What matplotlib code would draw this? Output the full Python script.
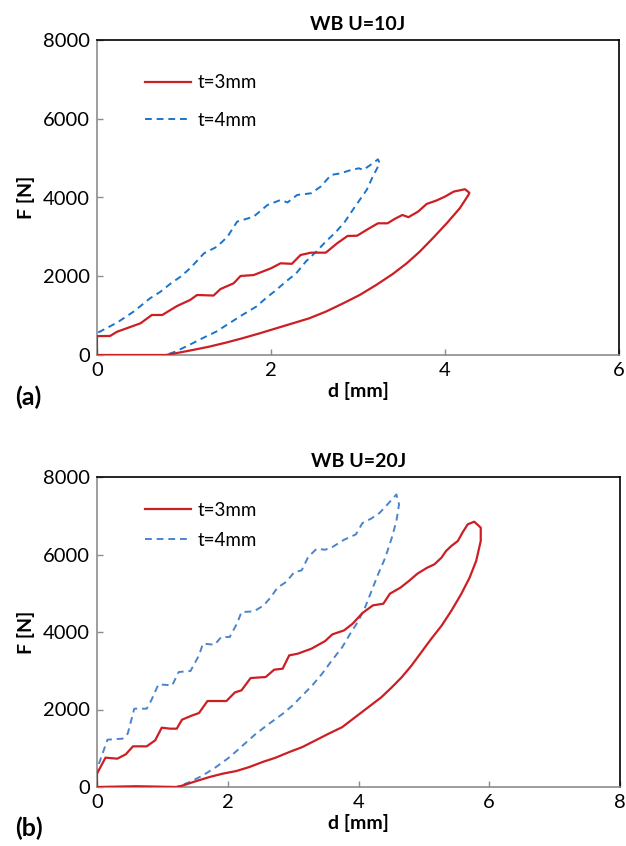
import matplotlib
matplotlib.use("Agg")
import matplotlib.pyplot as plt

plt.rcParams['font.family'] = ['Lato', 'DejaVu Sans']

# ---------------- data: panel (a) WB U=10J ----------------
a_t3_d = [0.0, 0.0, 0.15, 0.23, 0.50, 0.63, 0.75, 0.92, 1.07, 1.15, 1.34, 1.42, 1.57, 1.65, 1.80,
          2.00, 2.11, 2.24, 2.34, 2.46, 2.63, 2.76, 2.88, 2.99, 3.11, 3.23, 3.34, 3.42, 3.51,
          3.58, 3.69, 3.79, 3.90, 4.00, 4.10, 4.23, 4.28, 4.27,
          4.17, 4.02, 3.87, 3.71, 3.56, 3.40, 3.21, 3.02, 2.83, 2.63, 2.44, 2.25, 2.06, 1.87,
          1.67, 1.48, 1.29, 1.10, 0.90, 0.79, 0.40, 0.0]
a_t3_F = [0, 480, 483, 590, 805, 1016, 1016, 1244, 1397, 1524, 1510, 1676, 1820, 2007, 2030,
          2202, 2329, 2316, 2540, 2599, 2599, 2837, 3023, 3030, 3192, 3345, 3345, 3454, 3556,
          3500, 3641, 3837, 3922, 4023, 4150, 4210, 4120, 4066,
          3727, 3346, 2990, 2626, 2329, 2058, 1779, 1525, 1313, 1101, 932, 805, 678, 551,
          424, 313, 212, 127, 42, 0, 0, 0]

a_t4_d = [0.0, 0.0, 0.03, 0.23, 0.42, 0.61, 0.73, 0.84, 0.96, 1.07, 1.23, 1.38, 1.50, 1.61, 1.80,
          1.96, 2.11, 2.19, 2.30, 2.46, 2.57, 2.69, 2.80, 2.92, 3.01, 3.06, 3.17, 3.23, 3.25,
          3.17, 3.10, 3.02, 2.94, 2.85, 2.75, 2.63, 2.52, 2.40, 2.29, 2.17, 2.06, 1.94, 1.83,
          1.67, 1.52, 1.37, 1.21, 1.06, 0.90, 0.79, 0.40, 0.0]
a_t4_F = [0, 560, 590, 821, 1100, 1440, 1608, 1803, 1989, 2202, 2583, 2751, 3005, 3386, 3513,
          3810, 3937, 3874, 4064, 4107, 4275, 4572, 4615, 4699, 4742, 4699, 4869, 4970, 4870,
          4531, 4193, 3939, 3685, 3388, 3134, 2880, 2626, 2372, 2075, 1863, 1652, 1440, 1228,
          1016, 805, 593, 424, 254, 85, 0, 0, 0]

# ---------------- data: panel (b) WB U=20J ----------------
b_t3_d = [0.0, 0.0, 0.13, 0.31, 0.44, 0.55, 0.76, 0.89, 0.99, 1.12, 1.22, 1.30, 1.46, 1.56, 1.69,
          1.98, 2.11, 2.21, 2.35, 2.58, 2.71, 2.84, 2.94, 3.07, 3.28, 3.49, 3.60, 3.78, 3.91,
          4.06, 4.22, 4.38, 4.48, 4.64, 4.77, 4.90, 5.05, 5.16, 5.27, 5.34, 5.42, 5.52, 5.59,
          5.67, 5.77, 5.87, 5.87,
          5.80, 5.70, 5.57, 5.42, 5.27, 5.11, 4.96, 4.81, 4.66, 4.51, 4.35, 4.15, 3.95, 3.75,
          3.54, 3.34, 3.14, 2.94, 2.73, 2.53, 2.33, 2.13, 1.92, 1.72, 1.52, 1.32, 1.22, 0.60, 0.0]
b_t3_F = [0, 344, 757, 731, 843, 1049, 1049, 1204, 1531, 1505, 1505, 1737, 1849, 1909, 2219,
          2219, 2442, 2494, 2812, 2838, 3027, 3053, 3397, 3440, 3569, 3767, 3939, 4042, 4214,
          4489, 4687, 4730, 4988, 5143, 5315, 5504, 5659, 5745, 5920, 6092, 6220, 6349, 6564,
          6778, 6847, 6692, 6349,
          5834, 5405, 4976, 4547, 4161, 3818, 3475, 3132, 2831, 2574, 2317, 2059, 1802, 1544,
          1373, 1201, 1030, 901, 755, 644, 515, 412, 343, 257, 154, 43, 0, 20, 0]

b_t4_d = [0.0, 0.0, 0.03, 0.16, 0.39, 0.47, 0.57, 0.76, 0.83, 0.94, 1.15, 1.25, 1.43, 1.56, 1.62,
          1.80, 1.90, 2.03, 2.14, 2.21, 2.40, 2.55, 2.66, 2.76, 2.89, 3.02, 3.13, 3.23, 3.36,
          3.49, 3.60, 3.78, 3.96, 4.06, 4.19, 4.32, 4.43, 4.58, 4.62,
          4.58, 4.51, 4.41, 4.30, 4.20, 4.10, 4.00, 3.87, 3.75, 3.59, 3.44, 3.29, 3.14, 2.99,
          2.84, 2.63, 2.43, 2.23, 2.03, 1.82, 1.62, 1.42, 1.22, 0.60, 0.0]
b_t4_F = [0, 430, 602, 1221, 1247, 1376, 2021, 2021, 2236, 2649, 2623, 2967, 2993, 3397, 3698,
          3672, 3870, 3870, 4214, 4515, 4532, 4687, 4902, 5143, 5289, 5547, 5590, 5934, 6149,
          6123, 6192, 6381, 6519, 6811, 6923, 7069, 7267, 7550, 7293,
          6864, 6435, 5920, 5491, 5062, 4633, 4290, 3947, 3604, 3260, 2917, 2617, 2360, 2102,
          1888, 1630, 1373, 1073, 772, 515, 300, 129, 0, 0, 0]

titles = ['WB U=10J', 'WB U=20J']
panel_labels = ['(a)', '(b)']
series_labels = ['t=3mm', 't=4mm']
x_ticks = [[0, 2, 4, 6], [0, 2, 4, 6, 8]]
y_ticks = [0, 2000, 4000, 6000, 8000]

RED = '#cc1f24'
BLUE_A = '#1a74cc'
BLUE_B = '#4a84cc'
GREY = '#8c8c8c'

fig = plt.figure(figsize=(6.26, 8.46), dpi=100)
W, H = 626, 846
ax_a = fig.add_axes([97 / W, 1 - 355 / H, (619 - 97) / W, (355 - 40) / H])
ax_b = fig.add_axes([97 / W, 1 - 787 / H, (620 - 97) / W, (787 - 477) / H])

panels = [
    (ax_a, a_t3_d, a_t3_F, a_t4_d, a_t4_F, BLUE_A),
    (ax_b, b_t3_d, b_t3_F, b_t4_d, b_t4_F, BLUE_B),
]

for i, (ax, d3, f3, d4, f4, bcol) in enumerate(panels):
    ax.plot(d3, f3, color=RED, lw=1.6, label=series_labels[0], zorder=3)
    ax.plot(d4, f4, color=bcol, lw=1.4, ls=(0, (3.5, 2.5)), label=series_labels[1], zorder=2)
    ax.set_xlim(x_ticks[i][0], x_ticks[i][-1])
    ax.set_ylim(0, 8000)
    ax.set_xticks(x_ticks[i])
    ax.set_yticks(y_ticks)
    ax.tick_params(direction='in', length=4, width=1, color=GREY, labelsize=14.5, pad=5,
                   labelcolor='black')
    for side in ['left', 'bottom']:
        ax.spines[side].set_color(GREY)
        ax.spines[side].set_linewidth(1.2)
    for side in ['top', 'right']:
        ax.spines[side].set_color('black')
        ax.spines[side].set_linewidth(1.2)
    ax.set_title(titles[i], fontsize=14, fontweight='bold', pad=7)
    ax.set_xlabel('d [mm]', fontsize=14, fontweight='bold', labelpad=2)
    ax.set_ylabel('F [N]', fontsize=14, fontweight='bold', labelpad=6)
    ax.legend(loc='upper left', bbox_to_anchor=(0.06, 0.945) if i == 0 else (0.06, 0.975),
              frameon=False, fontsize=13.5, handlelength=2.45, handletextpad=0.35,
              labelspacing=1.1 if i == 0 else 0.7)

fig.text(15 / W, 1 - 397 / H, panel_labels[0], fontsize=18, fontweight='bold', va='center')
fig.text(15 / W, 1 - 828 / H, panel_labels[1], fontsize=18, fontweight='bold', va='center')

fig.savefig('out.png', dpi=100)
